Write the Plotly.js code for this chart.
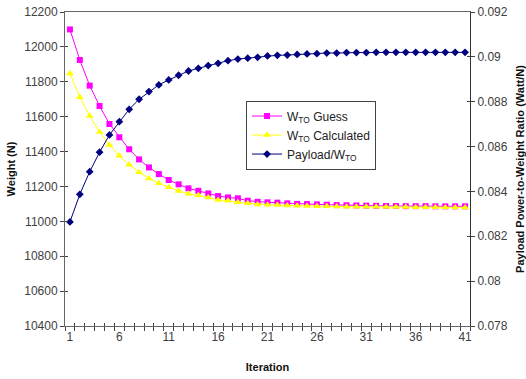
<!DOCTYPE html>
<html>
<head>
<meta charset="utf-8">
<script src="https://cdn.plot.ly/plotly-3.0.1.min.js"></script>
<style>
  html, body { margin: 0; padding: 0; background: #fff; }
  #chart { width: 526px; height: 379px; }
</style>
</head>
<body>
<div id="chart"></div>
<script>
const iterations = Array.from({length: 41}, (_, i) => i + 1);

const wtoGuess = [12100, 11925, 11778, 11661, 11558, 11482, 11413, 11355, 11309, 11271,
  11237, 11212, 11189, 11175, 11160, 11145, 11137, 11132, 11118, 11112,
  11109, 11107, 11103, 11100, 11099, 11097, 11095, 11093, 11092, 11091,
  11090, 11089, 11088, 11088, 11087, 11087, 11087, 11086, 11086, 11086, 11086];

const wtoCalculated = [11848, 11711, 11604, 11512, 11437, 11376, 11324, 11281, 11246, 11218,
  11196, 11174, 11158, 11149, 11137, 11122, 11118, 11109, 11103, 11097,
  11095, 11093, 11091, 11090, 11088, 11087, 11086, 11085, 11084, 11084,
  11083, 11083, 11082, 11082, 11082, 11081, 11081, 11081, 11080, 11080, 11080];

const payloadRatio = [0.08264, 0.08387, 0.08488, 0.08575, 0.08652, 0.08711, 0.08766, 0.08811, 0.08845, 0.08875,
  0.08897, 0.08918, 0.08937, 0.08949, 0.08961, 0.08971, 0.08983, 0.08990, 0.08994, 0.08998,
  0.09004, 0.09007, 0.09008, 0.09011, 0.09013, 0.09014, 0.09017, 0.09017, 0.09019, 0.09019,
  0.09019, 0.09020, 0.09020, 0.09020, 0.09020, 0.09020, 0.09020, 0.09020, 0.09020, 0.09020, 0.09020];

const xTickVals = [1, 6, 11, 16, 21, 26, 31, 36, 41];
const xTickText = ['1', '6', '11', '16', '21', '26', '31', '36', '41'];
const leftTickVals = [10400, 10600, 10800, 11000, 11200, 11400, 11600, 11800, 12000, 12200];
const leftTickText = ['10400', '10600', '10800', '11000', '11200', '11400', '11600', '11800', '12000', '12200'];
const rightTickVals = [0.078, 0.08, 0.082, 0.084, 0.086, 0.088, 0.09, 0.092];
const rightTickText = ['0.078', '0.08', '0.082', '0.084', '0.086', '0.088', '0.09', '0.092'];
const boundaryTicks = Array.from({length: 42}, (_, i) => i + 0.5);

const seriesNames = ['W<sub>TO</sub> Guess', 'W<sub>TO</sub> Calculated', 'Payload/W<sub>TO</sub>'];

const FONT = 'Liberation Sans, Arial, sans-serif';
const tickColor = '#404040';
const xRange = [0.5, 41.5];
const leftRange = [10400, 12200];
const rightRange = [0.078, 0.092];

const traces = [
  {
    x: iterations, y: wtoGuess, name: seriesNames[0], type: 'scatter', mode: 'lines+markers',
    line: {color: '#FF00FF', width: 1},
    marker: {symbol: 'square', size: 6, color: '#FF00FF'}
  },
  {
    x: iterations, y: wtoCalculated, name: seriesNames[1], type: 'scatter', mode: 'lines+markers',
    line: {color: '#FFFF00', width: 1},
    marker: {symbol: 'triangle-up', size: 7, color: '#FFFF00'}
  },
  {
    x: iterations, y: payloadRatio, name: seriesNames[2], type: 'scatter', mode: 'lines+markers',
    yaxis: 'y2',
    line: {color: '#000080', width: 1},
    marker: {symbol: 'diamond', size: 6, color: '#000080'}
  },
  // empty helper traces so the inner half of the crossing tick marks is drawn
  {x: [null], y: [null], xaxis: 'x2', yaxis: 'y3', showlegend: false, hoverinfo: 'skip', type: 'scatter', mode: 'markers'},
  {x: [null], y: [null], xaxis: 'x2', yaxis: 'y4', showlegend: false, hoverinfo: 'skip', type: 'scatter', mode: 'markers'}
];

const layout = {
  width: 526, height: 379,
  margin: {l: 65, r: 56, t: 12, b: 53},
  paper_bgcolor: '#fff', plot_bgcolor: '#fff',
  font: {family: FONT, size: 12, color: tickColor},
  showlegend: true,
  legend: {
    x: 0.447, y: 0.718, xanchor: 'left', yanchor: 'top',
    bordercolor: '#444', borderwidth: 1, bgcolor: '#fff',
    font: {family: FONT, size: 12, color: '#222'},
    tracegroupgap: 0
  },
  xaxis: {
    range: xRange, showgrid: false, zeroline: false,
    showline: true, linecolor: '#666', linewidth: 1, mirror: true,
    tickmode: 'array', tickvals: xTickVals, ticktext: xTickText, ticks: '', ticklen: 0,
    tickfont: {family: FONT, size: 12, color: tickColor},
    minor: {tickmode: 'array', tickvals: boundaryTicks, ticks: 'outside', ticklen: 4, tickcolor: '#444', showgrid: false},
    title: {text: '<b>Iteration</b>', font: {family: FONT, size: 11, color: '#111'}, standoff: 19},
    automargin: false
  },
  xaxis2: {
    overlaying: 'x', anchor: 'y', side: 'bottom',
    range: xRange, showgrid: false, zeroline: false, showline: false,
    showticklabels: false,
    tickmode: 'array', tickvals: boundaryTicks, ticks: 'inside', ticklen: 3, tickcolor: '#444',
    automargin: false
  },
  yaxis: {
    range: leftRange, showgrid: false, zeroline: false,
    showline: true, linecolor: '#666', linewidth: 1,
    tickmode: 'array', tickvals: leftTickVals, ticktext: leftTickText, ticks: 'outside', ticklen: 4, tickcolor: '#444',
    tickfont: {family: FONT, size: 12, color: tickColor},
    title: {text: '<b>Weight (N)</b>', font: {family: FONT, size: 11, color: '#111'}, standoff: 6},
    automargin: false
  },
  yaxis3: {
    overlaying: 'y', anchor: 'x', side: 'left',
    range: leftRange, showgrid: false, zeroline: false, showline: false,
    showticklabels: false,
    tickmode: 'array', tickvals: leftTickVals, ticks: 'inside', ticklen: 3, tickcolor: '#444',
    automargin: false
  },
  yaxis2: {
    overlaying: 'y', side: 'right', anchor: 'x',
    range: rightRange, showgrid: false, zeroline: false,
    showline: true, linecolor: '#333', linewidth: 1,
    tickmode: 'array', tickvals: rightTickVals, ticktext: rightTickText,
    ticks: 'outside', ticklen: 4, tickcolor: '#444',
    tickfont: {family: FONT, size: 12, color: tickColor},
    title: {text: '<b>Payload Power-to-Weight Ratio (Watt/N)</b>', font: {family: FONT, size: 11, color: '#111'}, standoff: 9},
    automargin: false
  },
  yaxis4: {
    overlaying: 'y', side: 'right', anchor: 'x',
    range: rightRange, showgrid: false, zeroline: false, showline: false,
    showticklabels: false,
    tickmode: 'array', tickvals: rightTickVals, ticks: 'inside', ticklen: 3, tickcolor: '#444',
    automargin: false
  }
};

Plotly.newPlot('chart', traces, layout, {displayModeBar: false, staticPlot: true});
</script>
</body>
</html>
